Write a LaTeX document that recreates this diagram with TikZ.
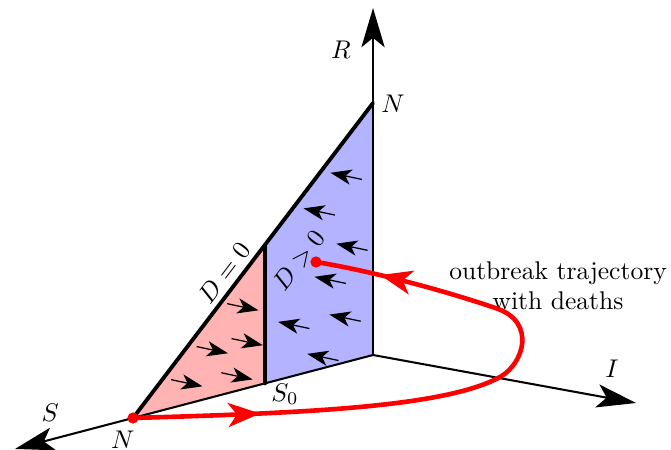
\documentclass[tikz,border=0pt]{standalone}
\usepackage{tikz}
\usetikzlibrary{arrows.meta, calc, decorations.markings}
\definecolor{regpink}{RGB}{255,179,179}
\definecolor{regblue}{RGB}{179,179,255}
\definecolor{trajred}{RGB}{255,0,0}
\tikzset{
    axis/.style  ={line width=0.8pt, -{Stealth[length=5.4mm, width=3.2mm, inset=1.3mm]}},
    bound/.style ={line width=1.5pt, line cap=round},
    fld/.style   ={line width=0.5pt, -{Stealth[length=2.9mm, width=2.1mm, inset=0.8mm]}},
    traj/.style  ={draw=trajred, line width=1.8pt, postaction={decorate},
                   decoration={markings,
                     mark=at position 1.75cm with {\arrow{Stealth[length=4.4mm, width=3.3mm, inset=1.2mm]}},
                     mark=at position -0.9cm with {\arrow{Stealth[length=4.4mm, width=3.3mm, inset=1.2mm]}}}},
    reddot/.style={circle, fill=trajred, inner sep=0pt, minimum size=4.4pt},
    lbl/.style   ={inner sep=1pt}
}

\begin{document}
\begin{tikzpicture}[x=1cm, y=1cm]
  \useasboundingbox (-5.129,-1.306) rectangle (4.097,4.881);
  % corners of the two regions
  \coordinate (O)    at (0,0);
  \coordinate (NS)   at (-3.3,-0.866);
  \coordinate (NR)   at (0,3.465);
  \coordinate (S0)   at (-1.485,-0.39);
  \coordinate (S0up) at (-1.485,1.51);
  \coordinate (Rtip) at (0,4.771);
  \coordinate (Itip) at (3.616,-0.66);
  \coordinate (Stip) at (-4.923,-1.292);

  \fill[regpink] (NS) -- (S0up) -- (S0) -- cycle;
  \fill[regblue] (S0) -- (S0up) -- (NR) -- (O) -- cycle;

  \draw[axis] (O) -- (Rtip);
  \draw[axis] (O) -- (Itip);
  \draw[axis] (O) -- (Stip);

  \draw[bound] (NS) -- (NR);
  \draw[bound] (S0) -- (S0up);

  % flow inside the regions
  \foreach \x/\y in {-1.79/0.66, -2.21/0.07, -1.73/0.18, -2.56/-0.385, -1.87/-0.29}
    \draw[fld, shift={(\x,\y)}] (168:0.22) -- (-12:0.22);
  \foreach \x/\y in {-0.37/2.46, -0.74/1.97, -0.29/1.485, -0.59/1.03, -1.09/0.41, -0.385/0.51, -0.69/-0.03}
    \draw[fld, shift={(\x,\y)}] (-12:0.22) -- (168:0.22);

  \node[lbl] (lR)  at (-0.44,4.19)  {$R$};
  \node[lbl] (lNR) at (0.275,3.45)  {$N$};
  \node[lbl] (lI)  at (3.286,-0.19) {$I$};
  \node[lbl] (lS)  at (-4.44,-0.80) {$S$};
  \node[lbl] (lNS) at (-3.44,-1.16) {$N$};
  \node[lbl] (lS0) at (-1.21,-0.54) {$S_0$};
  \node[lbl, rotate=52.7] (lD0) at (-2.05,1.13) {$D=0$};
  \node[lbl, rotate=52.7] (lDp) at (-1.02,1.30) {$D>0$};
  \node[align=center] (lTraj) at (2.544,0.95) {outbreak trajectory\\with deaths};

  \node[reddot] (start) at (NS) {};
  \node[reddot] (stop)  at (-0.784,1.279) {};
  \draw[traj] (start.center) .. controls (-1,-0.8) and (1.0,-0.72) .. (1.75,-0.30)
        .. controls (2.07,-0.12) and (2.25,0.45) .. (1.7,0.64)
        .. controls (1.0,0.88) and (0.0,1.15) .. (stop.center);
\end{tikzpicture}
\end{document}
